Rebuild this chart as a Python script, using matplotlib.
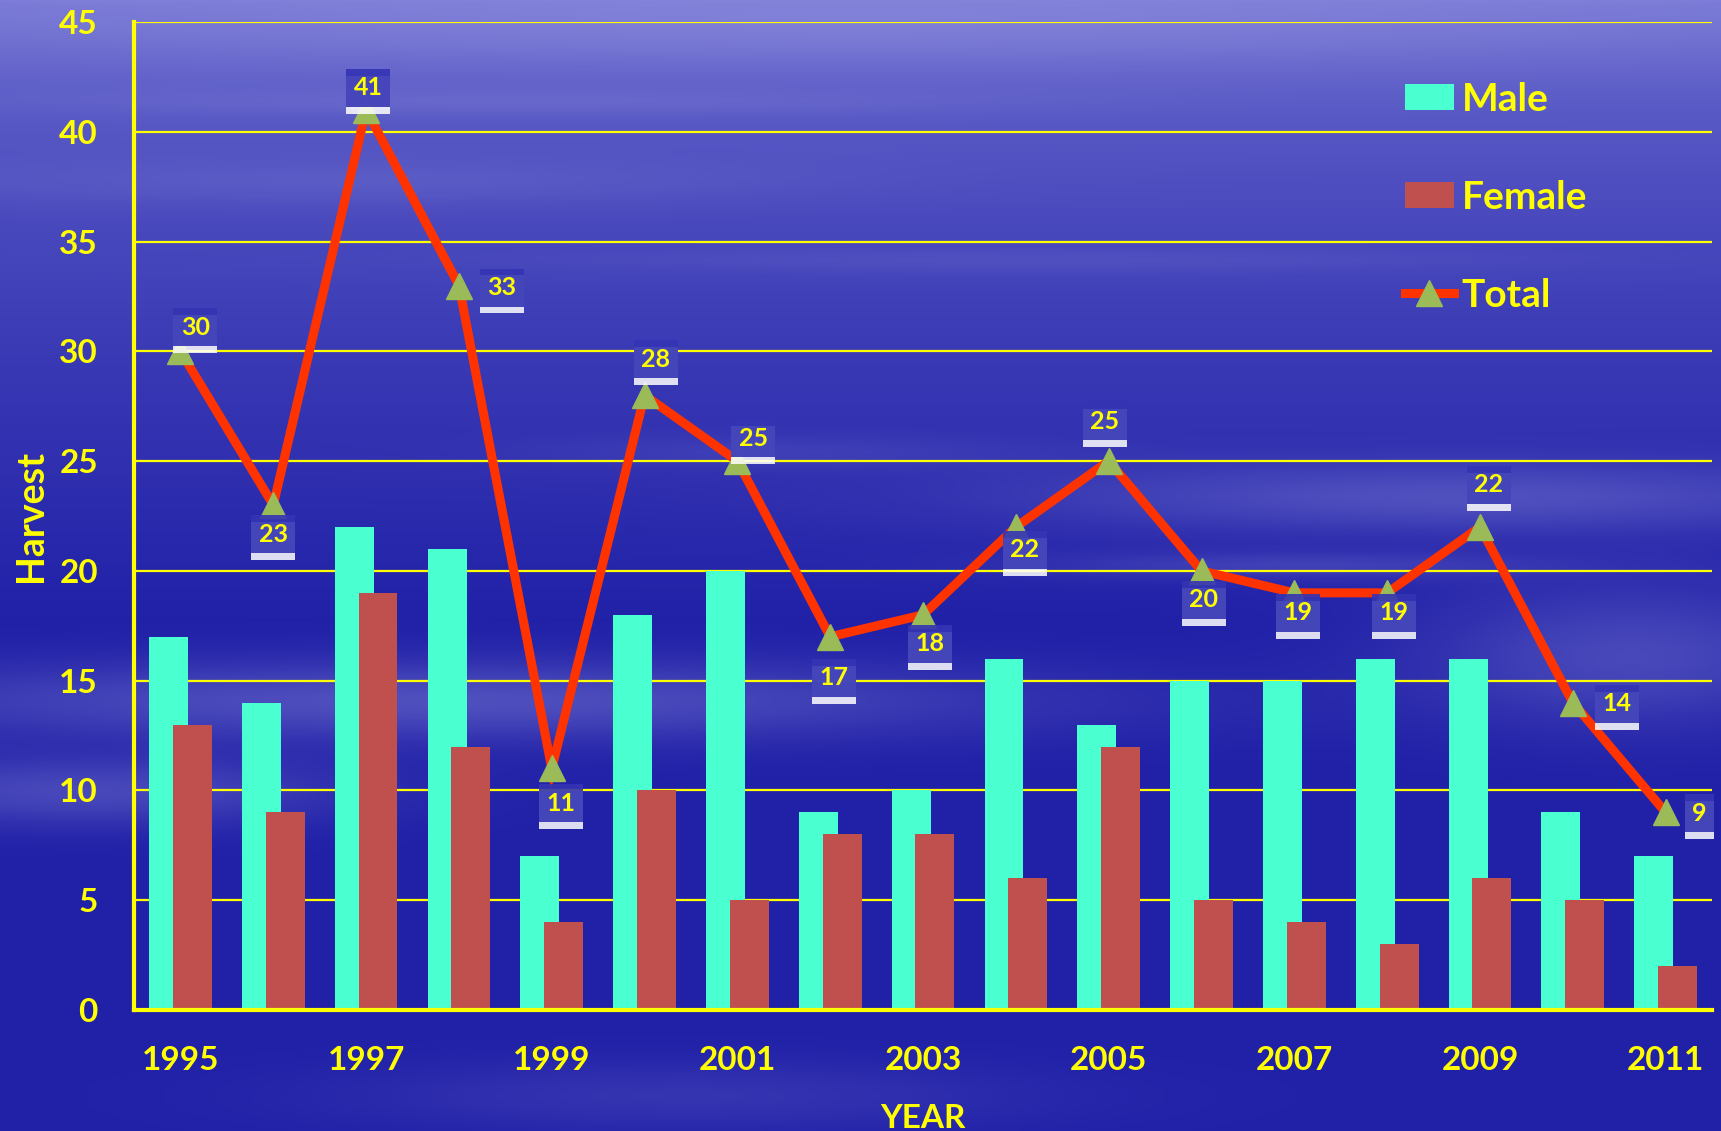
"""Harvest by year: male/female bars with total line, slide style."""

import matplotlib

matplotlib.use("Agg")
import matplotlib.pyplot as plt
import matplotlib.patheffects as pe
import numpy as np
from matplotlib.lines import Line2D
from matplotlib.patches import Patch


years = [1995, 1996, 1997, 1998, 1999, 2000, 2001, 2002, 2003,
         2004, 2005, 2006, 2007, 2008, 2009, 2010, 2011]
male = [17, 14, 22, 21, 7, 18, 20, 9, 10, 16, 13, 15, 15, 16, 16, 9, 7]
female = [13, 9, 19, 12, 4, 10, 5, 8, 8, 6, 12, 5, 4, 3, 6, 5, 2]
total = [30, 23, 41, 33, 11, 28, 25, 17, 18, 22, 25, 20, 19, 19, 22, 14, 9]
tick_years = years[::2]

# label offsets in pixels from each total point (dx, dy)
label_offsets = [(15, 24), (0, -29), (2, 22), (43, -2), (9, -35), (11, 36),
                 (16, 23), (4, -41), (7, -29), (9, -23), (-4, 40), (2, -29),
                 (4, -20), (7, -20), (9, 42), (44, -1), (34, -1)]

YELLOW = "#ffff00"
MALE_C = "#4affd0"
FEMALE_C = "#c0504d"
LINE_C = "#ff3300"
MARK_C = "#9bbb59"
FONT = ["Lato", "DejaVu Sans"]


def background(h=566, w=860):
    """Blue gradient with a few soft horizontal cloud bands."""
    yy, xx = np.mgrid[0:1:h * 1j, 0:1:w * 1j]
    top = np.array([0.47, 0.47, 0.84])
    bot = np.array([0.13, 0.13, 0.66])
    t = np.clip(yy / 0.55, 0, 1)[..., None] ** 0.6
    img = top * (1 - t) + bot * t
    bands = [  # (y, x, sy, sx, strength)
        (0.02, 0.5, 0.04, 0.6, 0.35),
        (0.09, 0.3, 0.012, 0.3, 0.15),
        (0.16, 0.2, 0.02, 0.25, 0.15),
        (0.23, 0.6, 0.012, 0.3, 0.12),
        (0.62, 0.25, 0.035, 0.35, 0.35),
        (0.70, 0.05, 0.03, 0.15, 0.3),
        (0.44, 0.85, 0.03, 0.25, 0.3),
        (0.50, 0.75, 0.012, 0.15, 0.2),
        (0.58, 0.95, 0.06, 0.12, 0.3),
        (0.40, 0.45, 0.015, 0.15, 0.12),
        (0.97, 0.4, 0.03, 0.2, 0.15),
    ]
    glow = np.zeros((h, w))
    for cy, cx, sy, sx, s in bands:
        glow += s * np.exp(-((yy - cy) / sy) ** 2 - ((xx - cx) / sx) ** 2)
    glow = np.clip(glow, 0, 0.6)[..., None]
    light = np.array([0.64, 0.64, 0.9])
    return img * (1 - glow) + light * glow


def main() -> None:
    fig = plt.figure(figsize=(17.21, 11.31), dpi=100)
    bg = fig.add_axes([0, 0, 1, 1])
    bg.imshow(background(), aspect="auto", extent=(0, 1, 0, 1))
    bg.axis("off")

    ax = fig.add_axes([0.0779, 0.107, 0.9169, 0.8735])
    ax.set_facecolor("none")
    x = np.arange(len(years))
    w = 0.42
    ax.bar(x - 0.128, male, width=w, color=MALE_C, zorder=3)
    ax.bar(x + 0.128, female, width=w, color=FEMALE_C, zorder=4)
    ax.plot(x, total, color=LINE_C, lw=6.5, zorder=5, solid_joinstyle="miter")
    ax.plot(x, total, ls="none", marker="^", ms=19, color=MARK_C, zorder=6)

    shadow = [pe.SimplePatchShadow(offset=(0, -5), shadow_rgbFace="white", alpha=0.85),
              pe.Normal()]
    for xi, v, (dx, dy) in zip(x, total, label_offsets):
        t = ax.annotate(str(v), (xi, v), xytext=(dx, dy), textcoords="offset pixels",
                        ha="center", va="center", fontsize=18, fontweight="bold",
                        family=FONT, color=YELLOW, zorder=8,
                        bbox=dict(boxstyle="square,pad=0.3", fc="#3434b4", ec="none",
                                  alpha=0.9))
        t.get_bbox_patch().set_path_effects(shadow)

    ax.set_xlim(-0.5, len(years) - 0.5)
    ax.set_ylim(0, 45)
    ax.set_yticks(range(0, 46, 5))
    ax.set_xticks([years.index(y) for y in tick_years])
    ax.set_xticklabels([str(y) for y in tick_years])
    ax.yaxis.grid(True, color=YELLOW, lw=1.6, zorder=1)
    ax.set_axisbelow(True)
    for side in ("top", "right"):
        ax.spines[side].set_visible(False)
    for side in ("left", "bottom"):
        ax.spines[side].set_color(YELLOW)
        ax.spines[side].set_linewidth(3)
        ax.spines[side].set_zorder(6)
    ax.tick_params(length=0, colors=YELLOW, labelsize=24)
    ax.tick_params(axis="y", pad=26)
    ax.tick_params(axis="x", pad=26)
    for lab in ax.get_xticklabels() + ax.get_yticklabels():
        lab.set_fontweight("bold")
        lab.set_family(FONT)

    ax.set_ylabel("Harvest", color=YELLOW, fontsize=27, fontweight="bold",
                  family=FONT, labelpad=8)
    ax.set_xlabel("YEAR", color=YELLOW, fontsize=24, fontweight="bold",
                  family=FONT, labelpad=21)

    handles = [
        Patch(fc=MALE_C, ec="none"),
        Patch(fc=FEMALE_C, ec="none"),
        Line2D([], [], color=LINE_C, lw=6.5, marker="^", ms=19, mfc=MARK_C, mec=MARK_C),
    ]
    leg = ax.legend(handles, ["Male", "Female", "Total"], loc="upper left",
                    bbox_to_anchor=(0.783, 0.975), frameon=False, labelspacing=1.62,
                    handlelength=1.26, handleheight=0.67, handletextpad=0.2,
                    prop=dict(family=FONT, weight="bold", size=28))
    for t in leg.get_texts():
        t.set_color(YELLOW)

    fig.text(0.999, 0.0, "1", color="white", fontsize=20, fontweight="bold",
             ha="left", va="bottom", family=FONT)

    fig.savefig("out.png", dpi=100)
    plt.close(fig)


if __name__ == "__main__":
    main()
